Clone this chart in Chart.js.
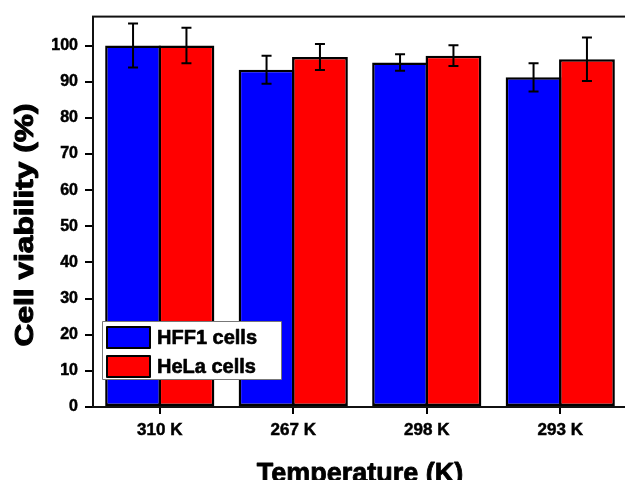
<!DOCTYPE html>
<html>
<head>
<meta charset="utf-8">
<script src="https://cdn.jsdelivr.net/npm/chart.js@4/dist/chart.umd.min.js"></script>
<style>
  html, body { margin: 0; padding: 0; overflow: hidden; background: #fff; }
  #wrap { width: 640px; height: 480px; }
</style>
</head>
<body>
<div id="wrap"><canvas id="c" width="640" height="480"></canvas></div>
<script>
const categories = ['310 K', '267 K', '298 K', '293 K'];
const hff1Values = [100, 93.3, 95.3, 91.2];
const hff1Errors = [6.1, 3.9, 2.3, 3.9];
const helaValues = [100, 96.8, 97.2, 96.2];
const helaErrors = [4.9, 3.6, 2.9, 6.0];
const yTicks = [0, 10, 20, 30, 40, 50, 60, 70, 80, 90, 100];
const seriesNames = ['HFF1 cells', 'HeLa cells'];
const xTitle = 'Temperature (K)';
const yTitle = 'Cell viability (%)';

const FONT = '"Liberation Sans", Arial, sans-serif';

const errorBarPlugin = {
  id: 'errorBars',
  afterDatasetsDraw(chart) {
    const ctx = chart.ctx;
    const y = chart.scales.y;
    const errs = [hff1Errors, helaErrors];
    ctx.save();
    ctx.strokeStyle = '#000';
    ctx.lineWidth = 2;
    chart.data.datasets.forEach((ds, di) => {
      const meta = chart.getDatasetMeta(di);
      meta.data.forEach((bar, i) => {
        const v = ds.data[i], e = errs[di][i];
        const yt = y.getPixelForValue(v + e);
        const yb = y.getPixelForValue(v - e);
        const x = bar.x;
        ctx.beginPath();
        ctx.moveTo(x, yt); ctx.lineTo(x, yb);
        ctx.moveTo(x - 5, yt); ctx.lineTo(x + 5, yt);
        ctx.moveTo(x - 5, yb); ctx.lineTo(x + 5, yb);
        ctx.stroke();
      });
    });
    ctx.restore();
  }
};

function heavyText(ctx, text, x, y, w) {
  ctx.lineWidth = w;
  ctx.strokeStyle = '#000';
  ctx.lineJoin = 'round';
  ctx.strokeText(text, x, y);
  ctx.fillText(text, x, y);
}

const framePlugin = {
  id: 'frame',
  afterDraw(chart) {
    const ctx = chart.ctx;
    const a = chart.chartArea;
    ctx.save();
    ctx.strokeStyle = '#111';
    ctx.lineWidth = 2;
    ctx.strokeRect(a.left, a.top, a.right - a.left, a.bottom - a.top);

    // axis titles
    ctx.fillStyle = '#000';
    ctx.font = 'bold 27px ' + FONT;
    ctx.textAlign = 'center';
    ctx.textBaseline = 'alphabetic';
    heavyText(ctx, xTitle, (a.left + a.right) / 2, 482, 0.8);

    ctx.save();
    ctx.translate(33, 225);
    ctx.rotate(-Math.PI / 2);
    ctx.scale(1.267, 1);
    ctx.font = 'bold 25px ' + FONT;
    ctx.textAlign = 'center';
    ctx.textBaseline = 'alphabetic';
    heavyText(ctx, yTitle, 0, 0, 1.0);
    ctx.restore();

    // legend
    const lx = 102, ly = 321, lw = 179, lh = 58;
    ctx.fillStyle = '#fff';
    ctx.fillRect(lx, ly, lw, lh);
    ctx.strokeStyle = '#777';
    ctx.lineWidth = 1;
    ctx.strokeRect(lx + 0.5, ly + 0.5, lw, lh);
    const rows = [337.5, 366.5];
    chart.data.datasets.forEach((ds, i) => {
      const cy = rows[i];
      ctx.fillStyle = ds.backgroundColor;
      ctx.fillRect(107, cy - 10.5, 43, 21);
      ctx.strokeStyle = '#000';
      ctx.lineWidth = 2;
      ctx.strokeRect(107, cy - 10.5, 43, 21);
      ctx.fillStyle = '#000';
      ctx.font = 'bold 20px ' + FONT;
      ctx.textAlign = 'left';
      ctx.textBaseline = 'middle';
      heavyText(ctx, seriesNames[i], 157, cy + 1, 0.6);
    });
    ctx.restore();
  }
};

new Chart(document.getElementById('c'), {
  type: 'bar',
  data: {
    labels: categories,
    datasets: [
      { label: seriesNames[0], data: hff1Values, backgroundColor: '#0000ff', borderColor: '#000', borderWidth: 2.5, borderSkipped: false },
      { label: seriesNames[1], data: helaValues, backgroundColor: '#ff0000', borderColor: '#000', borderWidth: 2.5, borderSkipped: false }
    ]
  },
  options: {
    responsive: false,
    animation: false,
    devicePixelRatio: 1,
    layout: { padding: { top: 15, right: 13, left: 0, bottom: 0 } },
    datasets: { bar: { categoryPercentage: 0.8, barPercentage: 1.045 } },
    plugins: { legend: { display: false }, tooltip: { enabled: false } },
    scales: {
      x: {
        grid: { display: true, offset: false, drawOnChartArea: false, drawTicks: true, tickLength: 7, tickColor: '#000', lineWidth: 2 },
        border: { display: true, color: '#000', width: 2 },
        ticks: { color: '#000', font: { family: FONT, size: 17, weight: 'bold' }, padding: 6, maxRotation: 0, textStrokeColor: '#000', textStrokeWidth: 0.5 },
        afterFit(s) { s.height = 73; }
      },
      y: {
        min: 0, max: 108,
        grid: { display: true, drawOnChartArea: false, drawTicks: true, tickLength: 8, tickColor: '#000', lineWidth: 2 },
        border: { display: true, color: '#000', width: 2 },
        ticks: { stepSize: 10, color: '#000', font: { family: FONT, size: 16, weight: 'bold' }, padding: 7, textStrokeColor: '#000', textStrokeWidth: 0.5 },
        afterBuildTicks(s) { s.ticks = yTicks.map(v => ({ value: v })); },
        afterFit(s) { s.width = 93; }
      }
    }
  },
  plugins: [errorBarPlugin, framePlugin]
});
</script>
</body>
</html>
